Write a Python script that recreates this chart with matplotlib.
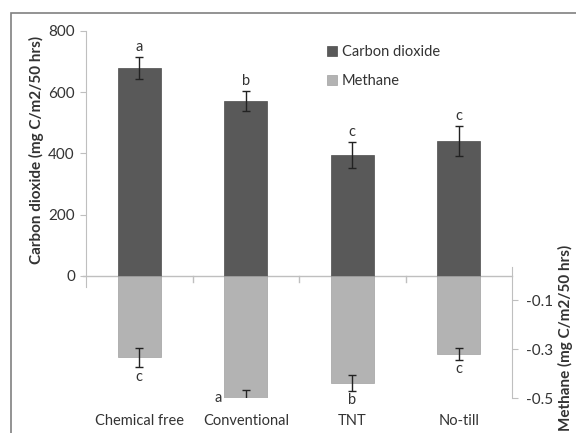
import matplotlib.pyplot as plt
from matplotlib.patches import Rectangle

plt.rcParams['font.family'] = ['Lato', 'DejaVu Sans']

treatments = ['Chemical free', 'Conventional', 'TNT', 'No-till']
co2 = [679, 571, 395, 441]
co2_err = [36, 32, 43, 49]
co2_letters = ['a', 'b', 'c', 'c']
ch4 = [-0.334, -0.507, -0.437, -0.32]
ch4_err = [0.04, 0.04, 0.033, 0.023]
ch4_letters = ['c', 'a', 'b', 'c']

dark = '#595959'
light = '#b3b3b3'
txt = '#333333'

fig = plt.figure(figsize=(5.76, 4.33), dpi=100)
# plot area: 800 at the top, methane -0.5 at the bottom
ax = fig.add_axes([86 / 576, 1 - 398 / 433, 426 / 576, 367 / 433])
ax.set_xlim(-0.5, 3.5)
ax.set_ylim(-400, 800)
ax2 = ax.twinx()
ax2.set_ylim(-0.5, 1.0)

x = list(range(len(treatments)))
ax.bar(x, co2, width=0.4, color=dark, edgecolor='#4d4d4d', linewidth=0.5,
       label='Carbon dioxide', zorder=2)
ax.errorbar(x, co2, yerr=co2_err, fmt='none', ecolor='#222222',
            elinewidth=1, capsize=3, capthick=1, zorder=3)
ax2.bar(x, ch4, width=0.4, color=light, edgecolor='#a0a0a0', linewidth=0.5,
        label='Methane', zorder=2)
ax2.errorbar(x, ch4, yerr=ch4_err, fmt='none', ecolor='#222222',
             elinewidth=1, capsize=3, capthick=1, zorder=3)

# significance letters
for i in x:
    ax.annotate(co2_letters[i], (i, co2[i] + co2_err[i]), xytext=(0, 2),
                textcoords='offset points', ha='center', va='bottom',
                fontsize=10.5, color=txt)
    if i == 1:
        ax2.annotate(ch4_letters[i], (i - 0.2, -0.5), xytext=(-2, 0),
                     textcoords='offset points', ha='right', va='center',
                     fontsize=10.5, color=txt, annotation_clip=False)
    else:
        ax2.annotate(ch4_letters[i], (i, ch4[i] - ch4_err[i]), xytext=(0, -2),
                     textcoords='offset points', ha='center', va='top',
                     fontsize=10.5, color=txt)

for s in ax.spines.values():
    s.set_visible(False)
for s in ax2.spines.values():
    s.set_visible(False)

ax.spines['left'].set_visible(True)
ax.spines['left'].set_bounds(-38, 800)
ax.spines['left'].set_color('#bfbfbf')
ax.set_yticks([0, 200, 400, 600, 800])
ax.tick_params(axis='y', length=4, color='#bfbfbf', labelsize=11,
               labelcolor=txt, pad=4)
ax.set_xticks([])

ax2.spines['right'].set_visible(True)
ax2.spines['right'].set_bounds(-0.5, 0.035)
ax2.spines['right'].set_color('#bfbfbf')
ax2.set_yticks([-0.1, -0.3, -0.5])
ax2.set_yticklabels(['-0.1', '-0.3', '-0.5'])
ax2.tick_params(axis='y', length=4, color='#bfbfbf', labelsize=11,
                labelcolor=txt, pad=6)

# zero line with category dividers
ax.axhline(0, xmin=-0.008, xmax=1, color='#bfbfbf', linewidth=1, zorder=1,
           clip_on=False)
for b in [0.5, 1.5, 2.5]:
    ax.plot([b, b], [0, -22], color='#bfbfbf', linewidth=1, zorder=1)

for i, name in enumerate(treatments):
    ax.text(i, -475, name, ha='center', va='center', fontsize=10.5,
            color=txt, clip_on=False)

fig.text(36 / 576, 1 - 150 / 433, 'Carbon dioxide (mg C/m2/50 hrs)',
         rotation=90, ha='center', va='center', fontsize=11,
         fontweight='bold', color=txt)
fig.text(565 / 576, 1 - 338 / 433, 'Methane (mg C/m2/50 hrs)',
         rotation=90, ha='center', va='center', fontsize=11,
         fontweight='bold', color=txt)

h1, l1 = ax.get_legend_handles_labels()
h2, l2 = ax2.get_legend_handles_labels()
fig.legend(h1 + h2, l1 + l2, loc='upper left',
           bbox_to_anchor=(314 / 576, 1 - 32 / 433), frameon=False,
           fontsize=10.5, handlelength=0.7, handleheight=0.7,
           handletextpad=0.3, labelspacing=1.05, labelcolor=txt)

# outer chart frame
fig.patches.append(Rectangle((11 / 576, -0.1), 1.2, 1 - 13 / 433 + 0.1,
                             transform=fig.transFigure, fill=False,
                             edgecolor='#808080', linewidth=1.2))

fig.savefig('out.png', dpi=100)
